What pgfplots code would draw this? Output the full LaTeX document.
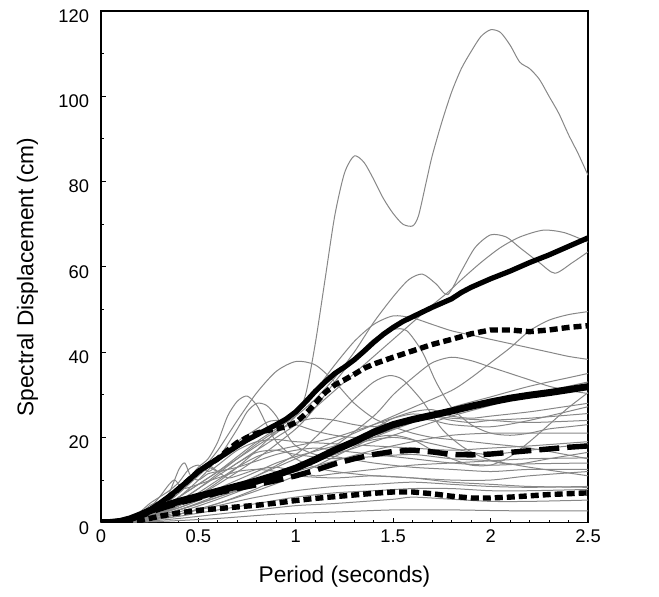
\documentclass[border=0pt]{standalone}
\usepackage{fontspec}
\setmainfont{Liberation Sans}
\usepackage{pgfplots}
\pgfplotsset{compat=1.18}
\definecolor{glc}{RGB}{135,135,135}
\pgfplotsset{
  gl/.style={color=glc, line width=0.5bp, smooth, tension=0.45, no markers},
  thk/.style={black, line width=#1, no markers, line join=round},
}
\begin{document}
\begin{tikzpicture}
\begin{axis}[name=ax, scale only axis, width=243.5bp, height=255.85bp,
  xmin=0, xmax=2.5, ymin=0, ymax=120,
  xtick={0,0.5,1,1.5,2,2.5}, xticklabels={0,0.5,1,1.5,2,2.5},
  ytick={0,20,40,60,80,100,120},
  minor x tick num=4, minor y tick num=1,
  tick align=inside, xtick pos=bottom, ytick pos=left,
  major tick length=2.5bp, minor tick length=1.5bp,
  tick style={black, line width=0.5bp},
  axis line style={line width=0.6bp},
  /pgf/number format/assume math mode=true,
  tick label style={font=\fontsize{9.2}{10}\selectfont},
  yticklabel style={xshift=-2.5bp, yshift=-2.5bp},
  xlabel={Period (seconds)}, ylabel={Spectral Displacement (cm)},
  label style={font=\fontsize{11.4}{13}\selectfont},
  xlabel style={at={(rel axis cs:0.5,-0.106)}, anchor=center},
  ylabel style={at={(rel axis cs:-0.151,0.48)}, anchor=center},
  clip=true,
]
% ---- individual records (gray) ----
\addplot[gl] coordinates {(0,0)(0.1,0.3)(0.2,1.2)(0.3,3)(0.4,6)(0.5,9)(0.6,12)(0.7,15)(0.8,18)(0.9,21)(1.0,25)(1.05,30)(1.1,42)(1.15,57)(1.2,72)(1.25,82)(1.3,86)(1.35,84.5)(1.4,80.5)(1.45,76)(1.5,72.5)(1.55,70)(1.6,69.6)(1.63,72)(1.67,80)(1.7,86)(1.75,94)(1.8,101)(1.85,106.5)(1.9,110.5)(1.95,114)(2.0,115.6)(2.05,115)(2.1,112)(2.15,108)(2.2,106.5)(2.25,104)(2.3,100)(2.35,96)(2.4,91)(2.45,86.5)(2.5,81.5)};
\addplot[gl] coordinates {(0,0)(0.1,0.3)(0.2,1)(0.3,3)(0.4,6)(0.5,9)(0.6,12)(0.7,15.5)(0.8,19)(0.9,22)(1.0,25)(1.1,29)(1.2,34)(1.3,40)(1.4,47)(1.5,53)(1.58,57)(1.65,58.3)(1.72,56)(1.78,53.5)(1.85,59)(1.92,64.5)(2.0,67.5)(2.08,67)(2.15,64.5)(2.25,61)(2.33,58.5)(2.42,61)(2.5,63.5)};
\addplot[gl] coordinates {(0,0)(0.1,0.3)(0.2,1)(0.3,2.5)(0.4,5)(0.5,8)(0.6,11)(0.7,14)(0.8,17)(0.9,20)(1.0,23)(1.1,27)(1.2,31)(1.3,35)(1.4,39)(1.5,43)(1.6,47)(1.7,51)(1.78,54)(1.85,57)(1.95,61)(2.05,64.5)(2.15,67)(2.27,68.6)(2.38,68)(2.5,65.8)};
\addplot[gl] coordinates {(0,0)(0.1,0.2)(0.2,0.8)(0.3,2)(0.4,4)(0.5,6.5)(0.6,9.5)(0.7,13)(0.8,17)(0.9,21.5)(1.0,26)(1.1,31)(1.2,37)(1.3,42.5)(1.4,46.5)(1.5,48.5)(1.6,48)(1.7,46.5)(1.8,45)(1.9,44)(2.0,43)(2.1,42)(2.2,41)(2.3,40)(2.4,39)(2.5,38.3)};
\addplot[gl] coordinates {(0,0)(0.2,0.8)(0.4,4)(0.6,9)(0.8,15)(1.0,22)(1.1,27)(1.2,33)(1.3,38.5)(1.4,43)(1.5,45.3)(1.57,45)(1.65,40)(1.72,33)(1.8,27)(1.9,23)(2.0,21)(2.1,20.5)(2.2,21)(2.3,22)(2.4,22.5)(2.5,23)};
\addplot[gl] coordinates {(0,0)(0.1,0.3)(0.2,1.2)(0.3,3.5)(0.4,7)(0.5,11.5)(0.6,17)(0.7,24)(0.8,30.5)(0.9,35.5)(1.0,37.8)(1.1,37)(1.2,33)(1.3,28)(1.4,24.5)(1.5,22.5)(1.6,21)(1.7,20)(1.8,19.5)(1.9,19)(2.0,18.5)(2.2,17.5)(2.5,15)};
\addplot[gl] coordinates {(0,0)(0.2,1.5)(0.3,4)(0.4,8)(0.5,13)(0.55,15)(0.6,19)(0.65,25)(0.7,28.5)(0.75,29.7)(0.8,27.5)(0.85,23)(0.9,19)(1.0,15)(1.1,13)(1.2,12)(1.4,11)(1.6,10.5)(1.8,9.5)(2.0,9)(2.2,8.5)(2.5,8.3)};
\addplot[gl] coordinates {(0,0)(0.2,1.2)(0.3,3)(0.4,6)(0.5,10)(0.6,15)(0.7,22)(0.75,26)(0.8,28)(0.85,27.5)(0.9,25)(0.95,21)(1.0,18)(1.1,16)(1.2,15.5)(1.4,14)(1.6,13)(1.8,12.5)(2.0,12)(2.2,12.5)(2.5,12.5)};
\addplot[gl] coordinates {(0,0)(0.2,0.6)(0.4,3)(0.6,6.5)(0.8,11)(1.0,16)(1.1,20)(1.2,24.5)(1.3,29)(1.4,33)(1.48,34.5)(1.55,33.5)(1.65,28.5)(1.75,22)(1.85,18)(1.95,15.5)(2.05,14)(2.15,13.8)(2.3,15)(2.5,16.5)};
\addplot[gl] coordinates {(0,0)(0.2,0.5)(0.4,2.5)(0.6,5.5)(0.8,9)(1.0,13)(1.2,18)(1.4,25)(1.5,30)(1.6,34)(1.7,37.5)(1.8,38.8)(1.9,38)(2.0,36.5)(2.1,35)(2.2,33.5)(2.3,32)(2.4,31)(2.5,30.3)};
\addplot[gl] coordinates {(0,0)(0.2,0.4)(0.4,2)(0.6,4.5)(0.8,7.5)(1.0,11)(1.2,15.5)(1.4,20)(1.6,23.5)(1.8,27)(2.0,29.5)(2.2,32)(2.4,34)(2.5,35)};
\addplot[gl] coordinates {(0,0)(0.2,0.8)(0.4,3.5)(0.6,7)(0.8,11)(1.0,15)(1.2,19)(1.4,23)(1.6,27)(1.8,31)(1.9,34)(2.0,37.5)(2.1,41)(2.2,45)(2.3,47.5)(2.4,48.8)(2.5,49.5)};
\addplot[gl] coordinates {(0,0)(0.2,1)(0.3,2.5)(0.4,5)(0.5,8)(0.6,11.5)(0.7,15)(0.8,18.5)(0.9,21.5)(1.0,23.5)(1.1,24.5)(1.2,24)(1.3,23)(1.4,22.5)(1.5,23.5)(1.6,24.5)(1.7,24)(1.8,23)(2.0,22.5)(2.2,24)(2.5,27.2)};
\addplot[gl] coordinates {(0,0)(0.2,0.8)(0.3,2)(0.4,4)(0.5,7)(0.6,10)(0.7,13)(0.8,15.5)(0.9,17)(1.0,18)(1.2,20)(1.4,23)(1.5,24.5)(1.6,25.5)(1.7,25)(1.8,24)(1.9,23.5)(2.0,24)(2.2,24.5)(2.5,25.6)};
\addplot[gl] coordinates {(0,0)(0.2,1.5)(0.3,4)(0.35,7)(0.4,12.5)(0.43,14)(0.46,11)(0.5,10)(0.55,11.5)(0.6,12)(0.7,13)(0.8,14.5)(0.9,16)(1.0,17)(1.1,17.5)(1.2,17)(1.4,16)(1.6,15)(1.8,14)(2.0,13.5)(2.2,13.8)(2.5,14)};
\addplot[gl] coordinates {(0,0)(0.2,1.2)(0.3,3.5)(0.4,7)(0.5,12.5)(0.55,13.5)(0.6,12)(0.65,10.5)(0.7,11)(0.8,12.5)(0.9,13)(1.0,12)(1.1,11)(1.2,11.5)(1.4,12.5)(1.6,13.5)(1.8,14)(2.0,14.5)(2.2,15)(2.5,15.2)};
\addplot[gl] coordinates {(0,0)(0.2,0.6)(0.4,3)(0.6,6)(0.8,9)(1.0,12)(1.2,14.5)(1.4,17)(1.6,19)(1.8,20.5)(2.0,21)(2.2,21)(2.5,21)};
\addplot[gl] coordinates {(0,0)(0.2,0.3)(0.4,1.5)(0.6,3)(0.8,4.5)(1.0,6)(1.2,7)(1.4,7.5)(1.6,8)(1.8,8)(2.0,7.5)(2.2,7.5)(2.5,7.8)};
\addplot[gl] coordinates {(0,0)(0.2,0.2)(0.4,1)(0.6,2)(0.8,3)(1.0,4)(1.2,4.5)(1.5,5.5)(1.6,6)(1.8,5.5)(2.0,5)(2.2,5)(2.5,5.3)};
\addplot[gl] coordinates {(0,0)(0.3,0.3)(0.6,1)(0.9,2)(1.2,2.5)(1.5,3)(1.8,3)(2.1,2.8)(2.5,2.8)};
\addplot[gl] coordinates {(0,0)(0.2,0.5)(0.4,2)(0.6,4)(0.8,6)(1.0,7.5)(1.2,8.5)(1.4,9)(1.6,9.5)(1.8,9)(2.0,8.5)(2.2,8.3)(2.5,8.5)};
\addplot[gl] coordinates {(0,0)(0.2,0.8)(0.4,3.5)(0.6,7)(0.8,10)(1.0,13)(1.2,17)(1.4,22)(1.5,24.5)(1.6,26)(1.7,26.5)(1.8,25)(1.9,24.5)(2.0,25)(2.2,26)(2.35,27)(2.5,28)};
\addplot[gl] coordinates {(0,0)(0.2,1)(0.4,4)(0.6,8)(0.8,12)(0.9,14)(1.0,15.5)(1.2,18)(1.4,20)(1.5,20.5)(1.6,19.5)(1.7,17)(1.8,15)(1.9,13.5)(2.0,13.5)(2.1,15.5)(2.2,19)(2.3,23)(2.4,27)(2.5,30.5)};
\addplot[gl] coordinates {(0,0)(0.2,2)(0.25,3.5)(0.3,6)(0.35,9)(0.38,10)(0.42,8)(0.5,9)(0.6,10.5)(0.7,12)(0.8,12.5)(0.9,12)(1.0,11)(1.2,10.5)(1.4,11)(1.6,10.5)(1.8,10)(2.0,10)(2.2,11)(2.5,12)};
\addplot[gl] coordinates {(0,0)(0.2,0.4)(0.4,2)(0.6,4.5)(0.8,8)(1.0,12.5)(1.2,16.5)(1.35,19)(1.5,20)(1.65,19)(1.8,17.5)(1.9,16.5)(2.0,16)(2.2,17)(2.5,18.5)};
\addplot[gl] coordinates {(0,0)(0.2,1.3)(0.3,3.5)(0.4,7)(0.5,11)(0.6,15)(0.7,19)(0.8,22)(0.85,23.5)(0.9,24)(1.0,23)(1.1,21.5)(1.2,20.5)(1.3,20)(1.4,20.5)(1.5,22)(1.6,24)(1.7,25)(1.8,24.5)(2.0,24)(2.2,23.5)(2.5,24)};
\addplot[gl] coordinates {(0,0)(0.2,0.7)(0.4,3)(0.6,6)(0.8,9.5)(1.0,13)(1.2,16)(1.4,19)(1.6,22)(1.8,25)(2.0,27.5)(2.2,30)(2.4,32)(2.5,33)};
\addplot[gl] coordinates {(0,0)(0.15,1)(0.2,2.5)(0.25,4.5)(0.3,6)(0.35,7.5)(0.4,9.5)(0.45,12.5)(0.5,13.5)(0.55,12)(0.6,13.5)(0.7,17)(0.8,19)(0.9,19.5)(1.0,19)(1.2,18.5)(1.4,18)(1.6,17.5)(1.8,17)(2.0,17.5)(2.2,18)(2.5,19)};
\addplot[gl] coordinates {(0,0)(0.15,0.8)(0.2,2)(0.25,4)(0.3,5)(0.35,5.5)(0.4,7)(0.45,9)(0.5,11.5)(0.55,13)(0.6,12)(0.65,12.5)(0.7,14)(0.8,16.5)(0.9,17)(1.0,16)(1.2,15)(1.4,15.5)(1.6,16)(1.8,15)(2.0,14.5)(2.2,13)(2.5,11)};
% ---- statistics (black) ----
\addplot[thk=3.5bp] coordinates {(0,0)(0.05,0.05)(0.1,0.3)(0.15,0.9)(0.2,1.8)(0.25,2.8)(0.3,3.6)(0.35,4.3)(0.4,5)(0.5,6.2)(0.6,7.4)(0.7,8.6)(0.8,9.8)(0.9,11.2)(1.0,12.8)(1.1,14.8)(1.2,17)(1.3,19)(1.4,21.2)(1.5,23)(1.6,24.2)(1.7,25.2)(1.8,26.2)(1.9,27.3)(2.0,28.3)(2.1,29.2)(2.2,29.9)(2.3,30.5)(2.4,31.2)(2.5,31.9)};
\addplot[thk=2.7bp, dash pattern=on 10bp off 4bp] coordinates {(0,0)(0.1,0.3)(0.2,1.5)(0.3,3.2)(0.4,4.6)(0.5,5.8)(0.6,7)(0.7,8)(0.8,8.9)(0.9,9.9)(1.0,11)(1.1,12.3)(1.2,13.8)(1.3,15)(1.4,16)(1.5,16.7)(1.6,17)(1.7,16.6)(1.8,16)(1.9,15.9)(2.0,16.1)(2.1,16.5)(2.2,16.9)(2.3,17.3)(2.4,17.7)(2.5,18)};
\addplot[thk=2.6bp] coordinates {(0,0)(0.05,0.05)(0.1,0.3)(0.15,0.8)(0.2,1.6)(0.25,3)(0.3,4.5)(0.35,6.2)(0.4,8)(0.45,10)(0.5,12)(0.55,13.6)(0.6,15)(0.65,16.5)(0.7,18)(0.75,19.4)(0.8,20.6)(0.85,21.8)(0.9,23)(0.95,24.3)(1.0,26)(1.05,28.3)(1.1,30.8)(1.15,33)(1.2,35)(1.25,36.5)(1.3,38.2)(1.35,40.2)(1.4,42.3)(1.45,44.2)(1.5,45.8)(1.55,47.2)(1.6,48.3)(1.7,50.5)(1.8,52.5)(1.85,54)(1.9,55.2)(2.0,57.2)(2.1,59)(2.2,61)(2.3,62.8)(2.4,64.8)(2.5,66.8)};
\addplot[thk=2.7bp, dash pattern=on 4bp off 2bp] coordinates {(0,0)(0.1,0.3)(0.2,1.5)(0.25,2.8)(0.3,4.3)(0.35,6)(0.4,8)(0.45,10)(0.5,12)(0.55,13.5)(0.6,15)(0.65,17)(0.7,18.8)(0.75,20)(0.8,21)(0.85,21.6)(0.9,22)(0.95,22.5)(1.0,23.5)(1.05,25.5)(1.1,28)(1.15,30.5)(1.2,32.3)(1.25,33.5)(1.3,34.8)(1.35,36.2)(1.4,37.2)(1.5,38.8)(1.6,40.3)(1.7,41.8)(1.8,43)(1.9,44.3)(2.0,45.2)(2.1,45.2)(2.2,44.8)(2.3,45.2)(2.4,45.8)(2.5,46.2)};
\addplot[thk=2.7bp, dash pattern=on 4bp off 2bp] coordinates {(0,0)(0.1,0.1)(0.2,0.5)(0.25,1)(0.3,1.5)(0.35,1.9)(0.4,2.3)(0.5,2.9)(0.6,3.3)(0.7,3.7)(0.8,4.1)(0.9,4.6)(1.0,5.2)(1.1,5.7)(1.2,6.1)(1.3,6.5)(1.4,6.9)(1.5,7.2)(1.6,7.2)(1.7,6.8)(1.8,6.2)(1.9,5.8)(2.0,5.8)(2.1,6)(2.2,6.3)(2.3,6.6)(2.4,6.8)(2.5,7)};
\end{axis}
\path (ax.south west) ++(-50.5bp,-37.15bp) rectangle ++(329.5bp,298.5bp);
\end{tikzpicture}
\end{document}
